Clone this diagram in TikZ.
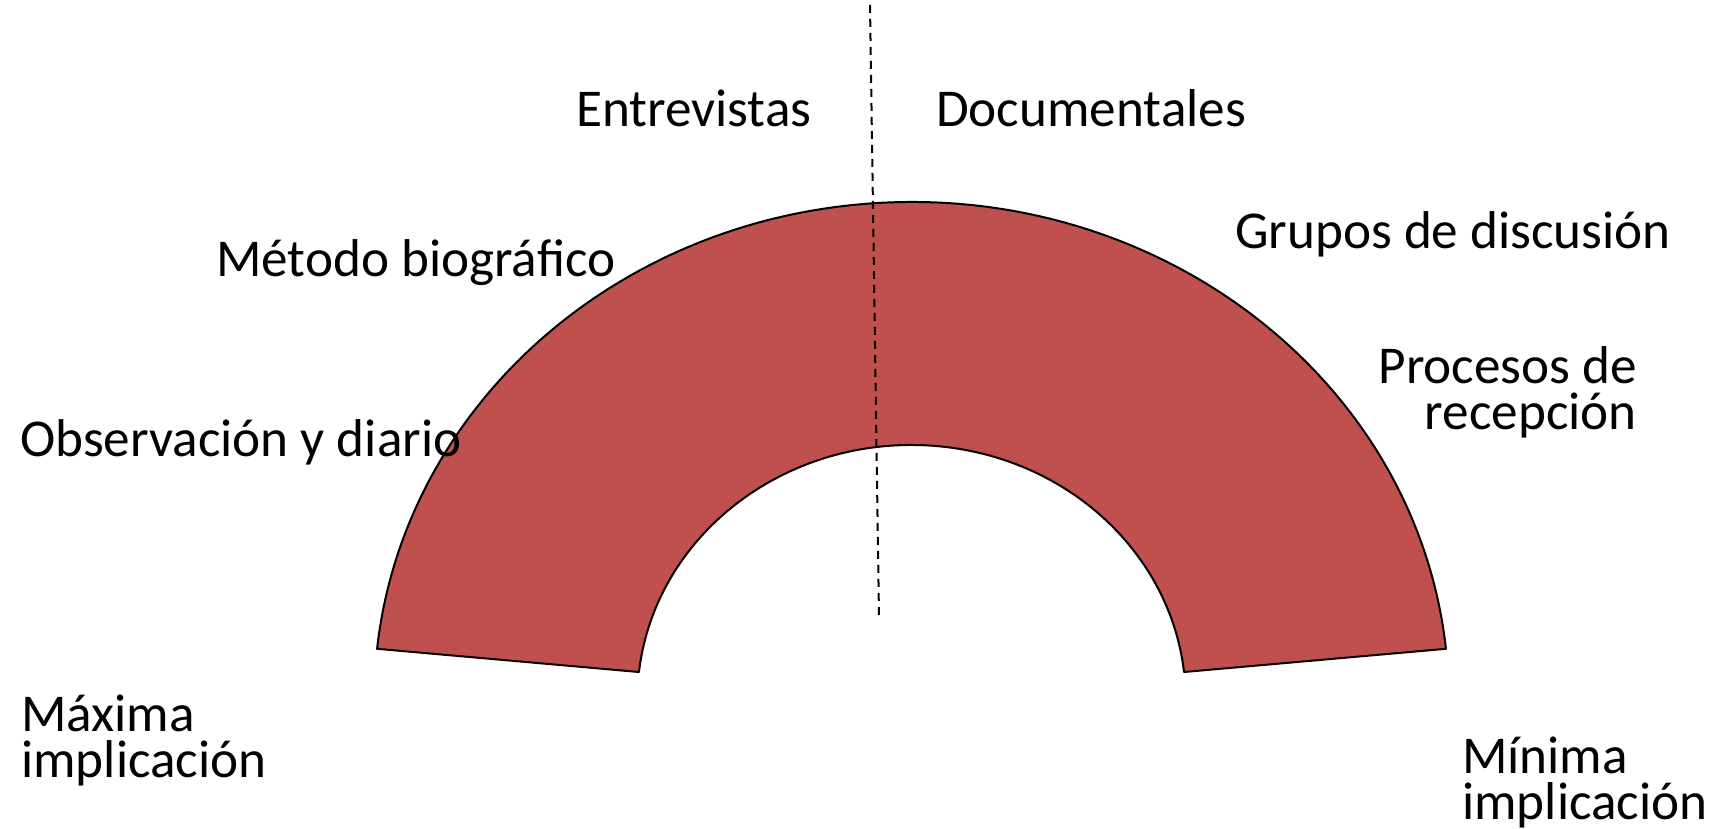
\documentclass[tikz,border=0pt]{standalone}
\usepackage{fontspec}
\setmainfont{Carlito}
\definecolor{arcred}{HTML}{C0504D}
\newcommand\tightlines{\lineskiplimit=-60pt\relax\lineskip=0pt\relax}
\begin{document}
\begin{tikzpicture}[x=1pt,y=1pt,
  lbl/.style={inner sep=0pt, font={\fontsize{53.2}{46.5}\selectfont\tightlines}},
  arcshape/.style={fill=arcred, draw=black, line width=2pt, line join=round},
  divider/.style={draw=black, line width=2pt, dash pattern=on 8pt off 6pt}]
\useasboundingbox (0,0) rectangle (1717,829);
\coordinate (c) at (911.5,129);
\path[arcshape] ([shift={(5.9:537.3 and 498)}]c)
  arc[start angle=5.9, end angle=174.1, x radius=537.3, y radius=498]
  -- ([shift={(173.7:274.2 and 255)}]c)
  arc[start angle=173.7, end angle=6.3, x radius=274.2, y radius=255]
  -- cycle;
\coordinate (dtop) at (870,824);
\coordinate (dbot) at (879,212);
\draw[divider] (dtop) -- (dbot);
\node[lbl, anchor=base west] (entre) at (576,702) {Entrevistas};
\node[lbl, anchor=base west] (docu) at (936,702) {Documentales};
\node[lbl, anchor=base west] (metodo) at (216,552) {Método biográfico};
\node[lbl, anchor=base west] (grupos) at (1235,580) {Grupos de discusión};
\node[lbl, anchor=base east, align=right] (proc) at (1637,399) {Procesos de\\recepción};
\node[lbl, anchor=base west] (obs) at (20,372) {Observación y diario};
\node[lbl, anchor=base west, align=left] (maxima) at (21,51) {Máxima\\implicación};
\node[lbl, anchor=base west, align=left] (minima) at (1462,9) {Mínima\\implicación};
\end{tikzpicture}
\end{document}
